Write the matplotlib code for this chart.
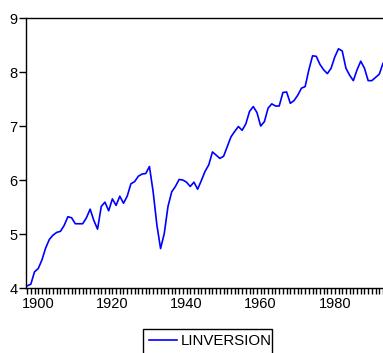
import numpy as np
import matplotlib
matplotlib.use('Agg')
import matplotlib.pyplot as plt
from matplotlib.patches import Rectangle
from matplotlib.lines import Line2D

plt.rcParams['font.family'] = ['Liberation Sans', 'DejaVu Sans']

# annual series, 1897-1993
years = np.arange(1897, 1994)
linversion = [4.04, 4.07, 4.30, 4.36, 4.52, 4.74, 4.90, 4.98, 5.03, 5.05,
              5.16, 5.32, 5.30, 5.19, 5.19, 5.19, 5.30, 5.46, 5.25, 5.09,
              5.51, 5.59, 5.43, 5.65, 5.53, 5.70, 5.57, 5.70, 5.93, 5.97,
              6.07, 6.11, 6.12, 6.25, 5.78, 5.17, 4.73, 5.01, 5.51, 5.78,
              5.88, 6.01, 6.00, 5.96, 5.88, 5.96, 5.83, 5.99, 6.16, 6.28,
              6.52, 6.46, 6.40, 6.44,
              6.62, 6.80, 6.90, 6.99, 6.92, 7.04, 7.27, 7.36, 7.25, 7.00,
              7.08, 7.33, 7.41, 7.37, 7.37, 7.62, 7.63, 7.42, 7.47, 7.57,
              7.70, 7.73, 8.04, 8.30, 8.29, 8.14, 8.04, 7.97, 8.07, 8.28,
              8.43, 8.39, 8.07, 7.94, 7.84, 8.04, 8.20, 8.07, 7.84, 7.84,
              7.90, 7.96, 8.16]
yticks = [4, 5, 6, 7, 8, 9]
xticks = [1900, 1920, 1940, 1960, 1980]
series_name = 'LINVERSION'
line_color = '#0000ff'

W, H = 383, 353
fig = plt.figure(figsize=(W/100, H/100), dpi=100)
ax = fig.add_axes([26/W, (H-288)/H, (W-26)/W, 270/H])

ax.plot(years, linversion, color=line_color, lw=1.2)

ax.set_xlim(1896.7, 1993.0)
ax.set_ylim(4, 9)
ax.set_yticks(yticks)
ax.set_xticks(xticks)
ax.set_xticks(np.arange(1897, 1994), minor=True)

ax.spines['right'].set_visible(False)
for s in ['left', 'top', 'bottom']:
    ax.spines[s].set_linewidth(1.0)

ax.tick_params(axis='y', direction='out', length=5, width=1, pad=1, labelsize=10.5)
ax.tick_params(axis='x', which='major', direction='out', length=4, width=1, pad=2.5, labelsize=10.5)
ax.tick_params(axis='x', which='minor', direction='out', length=4, width=1)

# EViews-style legend box, cut off by the bottom edge
fig.patches.append(Rectangle((143/W, -0.02), (272-143)/W, 0.02 + (H-329)/H,
                             transform=fig.transFigure, fill=False,
                             edgecolor='black', lw=1.0))
fig.lines.append(Line2D([149/W, 177/W], [1-340/H, 1-340/H],
                        transform=fig.transFigure, color=line_color, lw=1.2))
fig.text(181/W, 1-341/H, series_name, fontsize=10.8, ha='left', va='center')

fig.savefig('out.png', dpi=100)
